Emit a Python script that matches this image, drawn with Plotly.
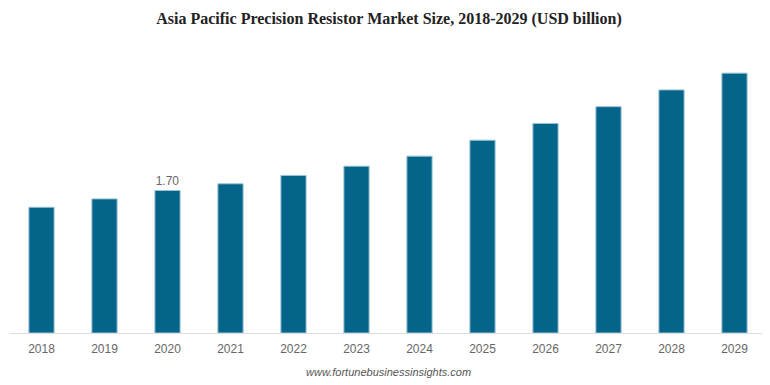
import plotly.graph_objects as go

years = ["2018", "2019", "2020", "2021", "2022", "2023", "2024", "2025", "2026", "2027", "2028", "2029"]
values = [1.50, 1.60, 1.70, 1.78, 1.88, 1.99, 2.11, 2.30, 2.50, 2.70, 2.90, 3.10]
labels = ["", "", "1.70", "", "", "", "", "", "", "", "", ""]

fig = go.Figure(go.Bar(
    x=years, y=values,
    marker=dict(color="#05648A", line=dict(color="#9cc3d3", width=1)),
    text=labels, textposition="outside", cliponaxis=False,
    textfont=dict(family="Liberation Sans, Arial", size=12, color="#666666"),
))

fig.update_layout(
    width=762, height=377,
    margin=dict(l=2, r=4, t=40, b=52),
    paper_bgcolor="white", plot_bgcolor="white",
    bargap=0.6, showlegend=False,
    title=dict(text="<b>Asia Pacific Precision Resistor Market Size, 2018-2029 (USD billion)</b>",
               x=0.5, xanchor="center", y=0.973, yanchor="middle",
               font=dict(family="Liberation Serif, Times New Roman", size=16, color="#222222")),
    xaxis=dict(showline=True, linecolor="#dddddd", linewidth=1, ticks="", showgrid=False,
               ticklabelstandoff=5,
               tickfont=dict(family="Liberation Sans, Arial", size=12, color="#666666")),
    yaxis=dict(range=[0, 3.4], visible=False, showgrid=False),
    annotations=[dict(text="<i>www.fortunebusinessinsights.com</i>", xref="paper", yref="paper",
                      x=0.5, y=-0.11, xanchor="center", yanchor="top", showarrow=False,
                      font=dict(family="Liberation Sans, Arial", size=11, color="#555555"))],
)

fig.write_html("out.html")
